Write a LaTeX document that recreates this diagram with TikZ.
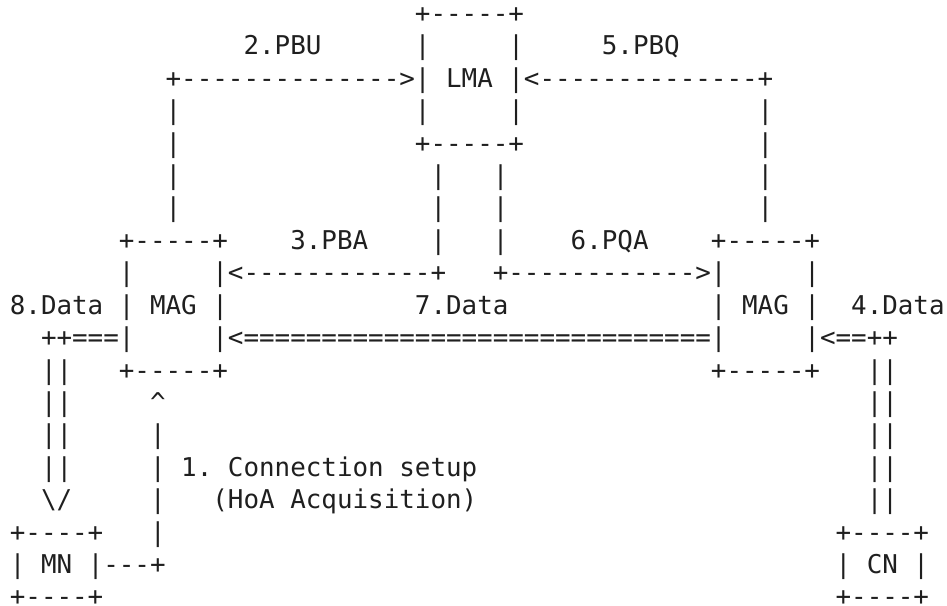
\documentclass[tikz,border=0pt]{standalone}
\usepackage{fontspec}
\setmonofont{DejaVu Sans Mono}
% character grid of the ASCII figure: cell width and row pitch in px
\newcommand\gridx{15.58}
\newcommand\gridy{32.4}
\newcommand\gridxo{9.85}
\newcommand\gridyo{22.6}
\tikzset{
  cell/.style={anchor=base west, inner sep=0pt, outer sep=0pt, text=black!88,
    text depth=0pt, font=\ttfamily\fontsize{19.41pt}{23pt}\selectfont},
}
% \artrow{row}{col/text,...}: places each run of characters on the grid
\newcommand\artrow[2]{%
  \foreach \c/\t in {#2} {
    \node[cell] (r#1c\c) at ({\gridxo+\c*\gridx}, {\gridyo+(#1-1)*\gridy}) {\t};
  }%
}
\begin{document}
\begin{tikzpicture}[x=0.75pt, y=-0.75pt]
  \useasboundingbox (0,0) rectangle (947,606);
  \artrow{1}{26/{+-----+}}
  \artrow{2}{15/{2.PBU}, 26/{|}, 32/{|}, 38/{5.PBQ}}
  \artrow{3}{10/{+-------------->|}, 28/{LMA}, 32/{|<--------------+}}
  \artrow{4}{10/{|}, 26/{|}, 32/{|}, 48/{|}}
  \artrow{5}{10/{|}, 26/{+-----+}, 48/{|}}
  \artrow{6}{10/{|}, 27/{|}, 31/{|}, 48/{|}}
  \artrow{7}{10/{|}, 27/{|}, 31/{|}, 48/{|}}
  \artrow{8}{7/{+-----+}, 18/{3.PBA}, 27/{|}, 31/{|}, 36/{6.PQA}, 45/{+-----+}}
  \artrow{9}{7/{|}, 13/{|<------------+}, 31/{+------------>|}, 51/{|}}
  \artrow{10}{0/{8.Data}, 7/{|}, 9/{MAG}, 13/{|}, 26/{7.Data}, 45/{|}, 47/{MAG}, 51/{|}, 54/{4.Data}}
  \artrow{11}{2/{++===|}, 13/{|<==============================|}, 51/{|<==++}}
  \artrow{12}{2/{||}, 7/{+-----+}, 45/{+-----+}, 55/{||}}
  \artrow{13}{2/{||}, 9/{\textasciicircum}, 55/{||}}
  \artrow{14}{2/{||}, 9/{|}, 55/{||}}
  \artrow{15}{2/{||}, 9/{|}, 11/{1.}, 14/{Connection}, 25/{setup}, 55/{||}}
  \artrow{16}{2/{\textbackslash/}, 9/{|}, 13/{(HoA}, 18/{Acquisition)}, 55/{||}}
  \artrow{17}{0/{+----+}, 9/{|}, 53/{+----+}}
  \artrow{18}{0/{|}, 2/{MN}, 5/{|---+}, 53/{|}, 55/{CN}, 58/{|}}
  \artrow{19}{0/{+----+}, 53/{+----+}}
\end{tikzpicture}
\end{document}
